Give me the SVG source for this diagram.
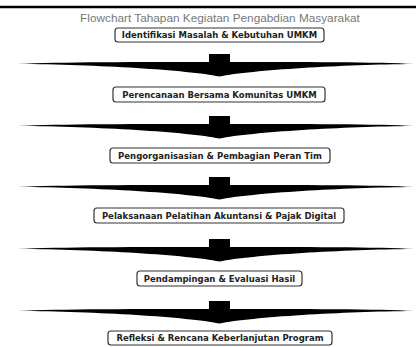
<svg xmlns="http://www.w3.org/2000/svg" width="416" height="347" viewBox="0 0 416 347">
<style>
.title{font-family:"Liberation Sans",Arial,sans-serif;font-size:11.8px;fill:#777;text-anchor:middle}
.box{fill:#fff;stroke:#333;stroke-width:1.2}
.lbl{font-family:"DejaVu Sans",Verdana,sans-serif;font-size:8.5px;font-weight:bold;fill:#222;text-anchor:middle}
.conn{fill:#000}
</style>
<defs>
<path id="head" d="M-10.5,-8 H10.5 V0 H-10.5 Z M-202,2 C-162,0 -82,0 0,0 C82,0 162,0 194,2 C124,2.5 32,8 0,14.5 C-32,8 -122,2.5 -202,2 Z"/>
</defs>
<rect width="416" height="347" fill="#fff"/>
<line x1="0" y1="7" x2="416" y2="7" stroke="#000" stroke-width="2.5"/>
<text class="title" x="220" y="22">Flowchart Tahapan Kegiatan Pengabdian Masyarakat</text>
<g id="connectors" class="conn">
<use href="#head" x="219.5" y="62"/>
<use href="#head" x="219.5" y="124"/>
<use href="#head" x="219.5" y="185"/>
<use href="#head" x="219.5" y="247"/>
<use href="#head" x="219.5" y="309"/>
</g>
<g id="n1"><rect class="box" x="115" y="28" width="209" height="14" rx="3"/><text class="lbl" x="219.5" y="38">Identifikasi Masalah &amp; Kebutuhan UMKM</text></g>
<g id="n2"><rect class="box" x="113" y="87" width="212" height="15" rx="3"/><text class="lbl" x="219.5" y="97.5">Perencanaan Bersama Komunitas UMKM</text></g>
<g id="n3"><rect class="box" x="110" y="148" width="220" height="15" rx="3"/><text class="lbl" x="220" y="158.5">Pengorganisasian &amp; Pembagian Peran Tim</text></g>
<g id="n4"><rect class="box" x="94" y="208" width="250" height="15" rx="3"/><text class="lbl" x="219" y="218.5">Pelaksanaan Pelatihan Akuntansi &amp; Pajak Digital</text></g>
<g id="n5"><rect class="box" x="137" y="271" width="165" height="15" rx="3"/><text class="lbl" x="219.5" y="281.5">Pendampingan &amp; Evaluasi Hasil</text></g>
<g id="n6"><rect class="box" x="108" y="331" width="224" height="14" rx="3"/><text class="lbl" x="220" y="341">Refleksi &amp; Rencana Keberlanjutan Program</text></g>
</svg>
